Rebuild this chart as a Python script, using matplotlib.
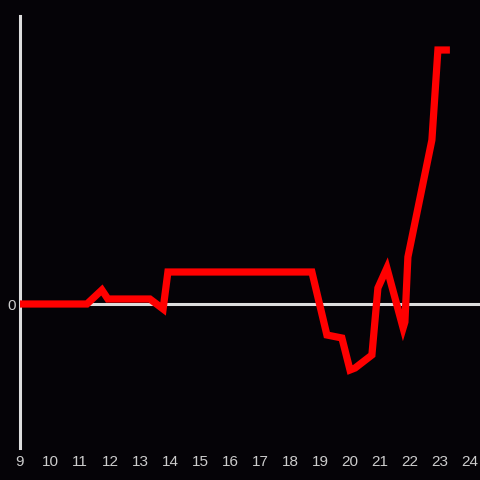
import matplotlib
matplotlib.use("Agg")
import matplotlib.pyplot as plt

hours = [9.0, 11.23, 11.73, 11.93, 13.33, 13.77, 13.93, 18.73, 19.23, 19.73,
         20.0, 20.17, 20.73, 20.93, 21.23, 21.77, 21.83, 21.93, 22.73, 22.93, 23.33]
values = [0, 0, 14, 5, 5, -5, 32, 32, -31, -34,
          -66, -64, -51, 16, 36, -24, -18, 47, 164, 254, 254]
xticks = list(range(9, 25))
yticks = [0]

bg = "#050307"
fig = plt.figure(figsize=(4.8, 4.8), dpi=100, facecolor=bg)
ax = fig.add_axes([20/480, 32/480, 460/480, 432/480], facecolor=bg)
ax.set_xlim(9, 9 + 460/30)
ax.set_ylim(-144, 288)

for s in ax.spines.values():
    s.set_visible(False)
ax.spines["left"].set_visible(True)
ax.spines["left"].set_color("#dddddd")
ax.spines["left"].set_linewidth(2.2)
ax.axhline(0, color="#dddddd", lw=2.2, zorder=1)

ax.plot(hours, values, color="#ff0000", lw=5.2, solid_joinstyle="miter",
        solid_capstyle="butt", zorder=3)

ax.set_xticks(xticks)
ax.set_xticklabels([str(t) for t in xticks])
ax.set_yticks(yticks)
ax.set_yticklabels(["0"])
ax.tick_params(axis="both", length=0, colors="#cccccc", labelsize=11)
ax.tick_params(axis="x", pad=5)
ax.tick_params(axis="y", pad=3)
for lbl in ax.get_xticklabels() + ax.get_yticklabels():
    lbl.set_family("Liberation Sans")

fig.savefig("out.png", dpi=100, facecolor=bg)
